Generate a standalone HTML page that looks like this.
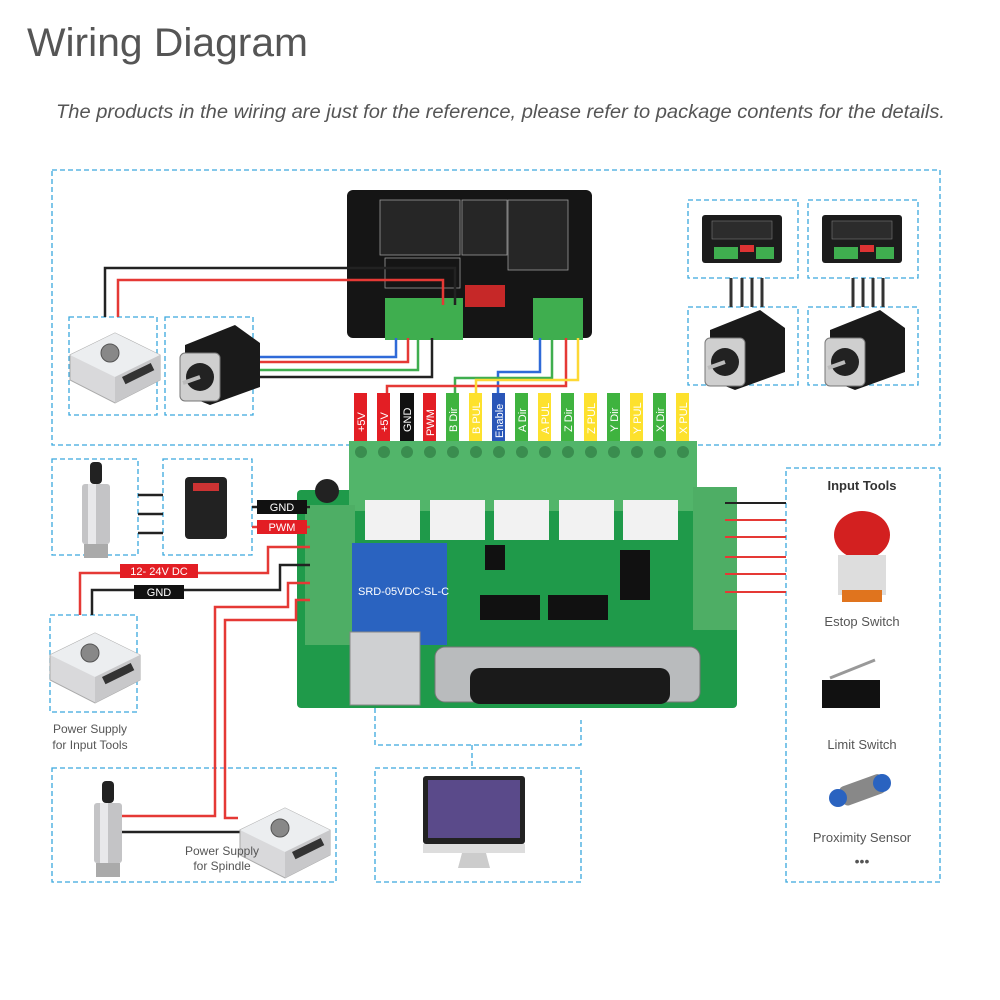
<!DOCTYPE html>
<html><head><meta charset="utf-8"><style>
html,body{margin:0;padding:0;background:#fff;}
svg{display:block}
text{font-family:"Liberation Sans",sans-serif;}
</style></head><body>
<svg width="1000" height="1000" viewBox="0 0 1000 1000" xmlns="http://www.w3.org/2000/svg">
<defs>
 <g id="ps">
  <polygon points="0,30 45,8 90,30 90,55 45,78 0,55" fill="#d9d9db" stroke="#aaa"/>
  <polygon points="0,30 45,8 90,30 45,52" fill="#eceef0"/>
  <circle cx="40" cy="28" r="9" fill="#888" stroke="#555"/>
  <polygon points="45,52 90,30 90,55 45,78" fill="#c8c8ca"/>
  <rect x="52" y="52" width="32" height="8" fill="#333" transform="rotate(-26 52 52)"/>
 </g>
 <g id="motor">
  <polygon points="10,20 60,0 85,18 85,62 35,80 10,70" fill="#1a1a1a"/>
  <rect x="5" y="28" width="40" height="48" rx="5" fill="#cfcfcf" stroke="#777"/>
  <circle cx="25" cy="52" r="14" fill="#222"/>
  <line x1="25" y1="52" x2="8" y2="58" stroke="#bbb" stroke-width="4"/>
 </g>
 <g id="drvs">
  <rect x="0" y="0" width="80" height="48" rx="3" fill="#1c1c1c"/>
  <rect x="10" y="6" width="60" height="18" fill="#2c2c2c" stroke="#777" stroke-width="0.6"/>
  <rect x="12" y="32" width="24" height="12" fill="#3fae4f"/>
  <rect x="38" y="30" width="14" height="7" fill="#d33"/>
  <rect x="54" y="32" width="18" height="12" fill="#3fae4f"/>
 </g>
 <g id="spindle">
  <rect x="12" y="0" width="12" height="22" rx="4" fill="#222"/>
  <rect x="4" y="22" width="28" height="60" rx="3" fill="#c4c4c6"/>
  <rect x="10" y="22" width="8" height="60" fill="#e8e8ea"/>
  <rect x="6" y="82" width="24" height="14" fill="#aaa"/>
 </g>
</defs>

<text x="27" y="56" font-size="40" fill="#555" textLength="281" lengthAdjust="spacingAndGlyphs">Wiring Diagram</text>
<text x="56" y="118" font-size="19" fill="#555" font-style="italic" textLength="889" lengthAdjust="spacingAndGlyphs">The products in the wiring are just for the reference, please refer to package contents for the details.</text>

<g fill="none" stroke="#3aa8dd" stroke-width="1.3" stroke-dasharray="5,3">
 <rect x="52" y="170" width="888" height="275"/>
 <rect x="69" y="317" width="88" height="98"/>
 <rect x="165" y="317" width="88" height="98"/>
 <rect x="688" y="200" width="110" height="78"/>
 <rect x="808" y="200" width="110" height="78"/>
 <rect x="688" y="307" width="110" height="78"/>
 <rect x="808" y="307" width="110" height="78"/>
 <rect x="52" y="459" width="86" height="96"/>
 <rect x="163" y="459" width="89" height="96"/>
 <rect x="50" y="615" width="87" height="97"/>
 <rect x="52" y="768" width="284" height="114"/>
 <rect x="375" y="768" width="206" height="114"/>
 <rect x="786" y="468" width="154" height="414"/>
 <polyline points="375,700 375,745 581,745 581,720"/>
 <line x1="472" y1="745" x2="472" y2="768"/>
</g>

<!-- main driver -->
<g>
 <rect x="347" y="190" width="245" height="148" rx="6" fill="#151515"/>
 <rect x="380" y="200" width="80" height="55" fill="#262626" stroke="#999" stroke-width="0.8"/>
 <rect x="462" y="200" width="45" height="55" fill="#262626" stroke="#999" stroke-width="0.8"/>
 <rect x="508" y="200" width="60" height="70" fill="#262626" stroke="#999" stroke-width="0.8"/>
 <rect x="385" y="258" width="75" height="30" fill="none" stroke="#999" stroke-width="0.8"/>
 <rect x="465" y="285" width="40" height="22" fill="#c62828"/>
 <rect x="385" y="298" width="78" height="42" fill="#3fae4f"/>
 <rect x="533" y="298" width="50" height="42" fill="#3fae4f"/>
</g>
<g fill="none" stroke-width="2.5">
 <polyline points="105,317 105,268 455,268 455,305" stroke="#222"/>
 <polyline points="118,317 118,280 443,280 443,305" stroke="#e53935"/>
 <polyline points="253,357 396,357 396,338" stroke="#2f6ad8"/>
 <polyline points="253,362 408,362 408,338" stroke="#e53935"/>
 <polyline points="253,370 418,370 418,338" stroke="#3fae4f"/>
 <polyline points="253,377 432,377 432,338" stroke="#222"/>
 <polyline points="540,338 540,372 498,372 498,393" stroke="#2f6ad8"/>
 <polyline points="552,338 552,378 455,378 455,393" stroke="#3fae4f"/>
 <polyline points="566,338 566,386 387,386 387,393" stroke="#e53935"/>
 <polyline points="578,338 578,380 476,380 476,393" stroke="#fdd835"/>
</g>

<use href="#drvs" x="702" y="215"/><use href="#drvs" x="822" y="215"/>
<use href="#motor" x="700" y="310"/><use href="#motor" x="820" y="310"/>
<g stroke="#333" stroke-width="3">
 <line x1="731" y1="278" x2="731" y2="307"/><line x1="742" y1="278" x2="742" y2="307"/><line x1="752" y1="278" x2="752" y2="307"/><line x1="762" y1="278" x2="762" y2="307"/>
 <line x1="853" y1="278" x2="853" y2="307"/><line x1="863" y1="278" x2="863" y2="307"/><line x1="873" y1="278" x2="873" y2="307"/><line x1="883" y1="278" x2="883" y2="307"/>
</g>
<use href="#ps" x="70" y="325"/>
<use href="#motor" x="175" y="325"/>

<g font-size="11" fill="#fff">
 <rect x="354" y="393" width="13" height="49" fill="#e31e24"/>
 <rect x="377" y="393" width="13" height="49" fill="#e31e24"/>
 <rect x="400" y="393" width="14" height="49" fill="#111"/>
 <rect x="423" y="393" width="13" height="49" fill="#e31e24"/>
 <rect x="446" y="393" width="13" height="49" fill="#3fb33f"/>
 <rect x="469" y="393" width="13" height="49" fill="#fde12d"/>
 <rect x="492" y="393" width="13" height="49" fill="#2a56b8"/>
 <rect x="515" y="393" width="13" height="49" fill="#3fb33f"/>
 <rect x="538" y="393" width="13" height="49" fill="#fde12d"/>
 <rect x="561" y="393" width="13" height="49" fill="#3fb33f"/>
 <rect x="584" y="393" width="13" height="49" fill="#fde12d"/>
 <rect x="607" y="393" width="13" height="49" fill="#3fb33f"/>
 <rect x="630" y="393" width="13" height="49" fill="#fde12d"/>
 <rect x="653" y="393" width="13" height="49" fill="#3fb33f"/>
 <rect x="676" y="393" width="13" height="49" fill="#fde12d"/>
 <text transform="translate(365,432) rotate(-90)">+5V</text>
 <text transform="translate(388,432) rotate(-90)">+5V</text>
 <text transform="translate(411,432) rotate(-90)">GND</text>
 <text transform="translate(434,436) rotate(-90)">PWM</text>
 <text transform="translate(457,432) rotate(-90)">B Dir</text>
 <text transform="translate(480,434) rotate(-90)">B PUL</text>
 <text transform="translate(503,438) rotate(-90)">Enable</text>
 <text transform="translate(526,432) rotate(-90)">A Dir</text>
 <text transform="translate(549,434) rotate(-90)">A PUL</text>
 <text transform="translate(572,432) rotate(-90)">Z Dir</text>
 <text transform="translate(595,434) rotate(-90)">Z PUL</text>
 <text transform="translate(618,432) rotate(-90)">Y Dir</text>
 <text transform="translate(641,434) rotate(-90)">Y PUL</text>
 <text transform="translate(664,432) rotate(-90)">X Dir</text>
 <text transform="translate(687,434) rotate(-90)">X PUL</text>
</g>

<g>
 <rect x="297" y="490" width="440" height="218" rx="4" fill="#1f9a4a"/>
 <rect x="349" y="441" width="348" height="70" fill="#52b56a"/>
 <g fill="#3a8d4f">
  <circle cx="361" cy="452" r="6"/><circle cx="384" cy="452" r="6"/><circle cx="407" cy="452" r="6"/><circle cx="430" cy="452" r="6"/><circle cx="453" cy="452" r="6"/><circle cx="476" cy="452" r="6"/><circle cx="499" cy="452" r="6"/><circle cx="522" cy="452" r="6"/><circle cx="545" cy="452" r="6"/><circle cx="568" cy="452" r="6"/><circle cx="591" cy="452" r="6"/><circle cx="614" cy="452" r="6"/><circle cx="637" cy="452" r="6"/><circle cx="660" cy="452" r="6"/><circle cx="683" cy="452" r="6"/>
 </g>
 <g fill="#f2f2f2"><rect x="365" y="500" width="55" height="40"/><rect x="430" y="500" width="55" height="40"/><rect x="494" y="500" width="55" height="40"/><rect x="559" y="500" width="55" height="40"/><rect x="623" y="500" width="55" height="40"/></g>
 <rect x="305" y="505" width="50" height="140" fill="#4eae65"/>
 <rect x="693" y="487" width="44" height="143" fill="#4eae65"/>
 <circle cx="327" cy="491" r="12" fill="#222"/>
 <rect x="352" y="543" width="95" height="102" fill="#2a63c0"/>
 <text x="358" y="595" font-size="11" fill="#fff">SRD-05VDC-SL-C</text>
 <rect x="485" y="545" width="20" height="25" fill="#111"/>
 <rect x="480" y="595" width="60" height="25" fill="#111"/>
 <rect x="548" y="595" width="60" height="25" fill="#111"/>
 <rect x="620" y="550" width="30" height="50" fill="#111"/>
 <rect x="350" y="632" width="70" height="73" fill="#cfd0d2" stroke="#888"/>
 <rect x="435" y="647" width="265" height="55" rx="10" fill="#b9bbbd" stroke="#777"/>
 <rect x="470" y="668" width="200" height="36" rx="10" fill="#1a1a1a"/>
</g>

<g fill="none" stroke-width="2">
 <line x1="725" y1="503" x2="786" y2="503" stroke="#222"/>
 <line x1="725" y1="520" x2="786" y2="520" stroke="#e53935"/>
 <line x1="725" y1="537" x2="786" y2="537" stroke="#e53935"/>
 <line x1="725" y1="557" x2="786" y2="557" stroke="#e53935"/>
 <line x1="725" y1="574" x2="786" y2="574" stroke="#e53935"/>
 <line x1="725" y1="592" x2="786" y2="592" stroke="#e53935"/>
</g>

<use href="#spindle" x="78" y="462"/>
<rect x="185" y="477" width="42" height="62" rx="4" fill="#222"/>
<rect x="193" y="483" width="26" height="8" fill="#c33"/>
<g stroke="#222" stroke-width="2.5"><line x1="138" y1="495" x2="163" y2="495"/><line x1="138" y1="514" x2="163" y2="514"/><line x1="138" y1="533" x2="163" y2="533"/></g>
<g fill="none" stroke-width="2.5">
 <line x1="252" y1="507" x2="310" y2="507" stroke="#222"/>
 <line x1="252" y1="527" x2="310" y2="527" stroke="#e53935"/>
 <polyline points="80,615 80,573 268,573 268,547 310,547" stroke="#e53935"/>
 <polyline points="92,615 92,590 280,590 280,565 310,565" stroke="#222"/>
 <polyline points="122,816 215,816 215,607 288,607 288,583 310,583" stroke="#e53935"/>
 <polyline points="238,818 225,818 225,620 296,620 296,600 310,600" stroke="#e53935"/>
 <line x1="122" y1="832" x2="252" y2="832" stroke="#222"/>
</g>
<rect x="257" y="500" width="50" height="14" fill="#111"/><text x="282" y="511" font-size="11" fill="#fff" text-anchor="middle">GND</text>
<rect x="257" y="520" width="50" height="14" fill="#e31e24"/><text x="282" y="531" font-size="11" fill="#fff" text-anchor="middle">PWM</text>
<rect x="120" y="564" width="78" height="14" fill="#e31e24"/><text x="159" y="575" font-size="11" fill="#fff" text-anchor="middle">12- 24V DC</text>
<rect x="134" y="585" width="50" height="14" fill="#111"/><text x="159" y="596" font-size="11" fill="#fff" text-anchor="middle">GND</text>
<use href="#ps" x="50" y="625"/>
<text x="90" y="733" font-size="12" fill="#555" text-anchor="middle">Power Supply</text>
<text x="90" y="749" font-size="12" fill="#555" text-anchor="middle">for Input Tools</text>
<use href="#spindle" x="90" y="781"/>
<use href="#ps" x="240" y="800"/>
<text x="222" y="855" font-size="12" fill="#555" text-anchor="middle">Power Supply</text>
<text x="222" y="870" font-size="12" fill="#555" text-anchor="middle">for Spindle</text>

<rect x="423" y="776" width="102" height="68" rx="3" fill="#222"/>
<rect x="428" y="780" width="92" height="58" fill="#5a4a8a"/>
<rect x="423" y="844" width="102" height="9" fill="#ddd"/>
<polygon points="462,853 486,853 490,868 458,868" fill="#ccc"/>

<text x="862" y="490" font-size="13" font-weight="bold" fill="#333" text-anchor="middle">Input Tools</text>
<ellipse cx="862" cy="535" rx="28" ry="24" fill="#d32020"/>
<rect x="838" y="555" width="48" height="40" fill="#ddd"/>
<rect x="842" y="590" width="40" height="12" fill="#e0741e"/>
<text x="862" y="626" font-size="13" fill="#555" text-anchor="middle">Estop Switch</text>
<rect x="822" y="680" width="58" height="28" fill="#111"/>
<line x1="830" y1="678" x2="875" y2="660" stroke="#999" stroke-width="3"/>
<text x="862" y="749" font-size="13" fill="#555" text-anchor="middle">Limit Switch</text>
<rect x="840" y="780" width="45" height="20" rx="5" fill="#888" transform="rotate(-20 862 790)"/>
<circle cx="838" cy="798" r="9" fill="#2a63c0"/>
<circle cx="882" cy="783" r="9" fill="#2a63c0"/>
<text x="862" y="842" font-size="13" fill="#555" text-anchor="middle">Proximity Sensor</text>
<text x="862" y="866" font-size="14" fill="#555" text-anchor="middle">•••</text>
</svg>
</body></html>
